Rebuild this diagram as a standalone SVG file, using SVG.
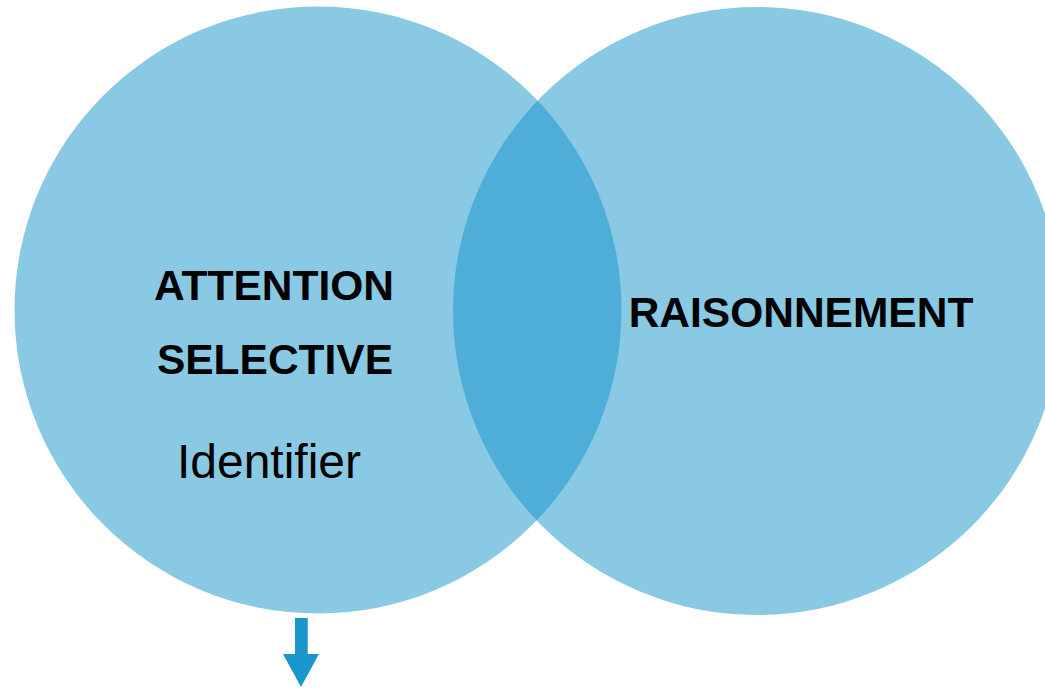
<svg xmlns="http://www.w3.org/2000/svg" width="1045" height="688" viewBox="0 0 1045 688">
<style>
.c{fill:#89C9E3}
.lens{fill:#4EAED8}
.b{font-family:"Liberation Sans",Arial,sans-serif;font-weight:bold;font-size:42.5px;fill:#000;text-anchor:middle}
.r{font-family:"Liberation Sans",Arial,sans-serif;font-size:48px;fill:#000;text-anchor:middle}
</style>
<defs>
<clipPath id="clipL"><circle cx="318" cy="310" r="303.5"/></clipPath>
</defs>
<rect width="1045" height="688" fill="#fff"/>
<g id="left-circle">
<circle class="c" cx="318" cy="310" r="303.5"/>
</g>
<g id="right-circle">
<circle class="c" cx="757" cy="311" r="304"/>
</g>
<g id="intersection">
<circle class="lens" cx="757" cy="311" r="304" clip-path="url(#clipL)"/>
</g>
<g id="attention">
<text class="b" x="274" y="300">ATTENTION</text>
<text class="b" x="275" y="374">SELECTIVE</text>
<text class="r" x="269" y="478">Identifier</text>
</g>
<g id="raisonnement">
<text class="b" x="801" y="327">RAISONNEMENT</text>
</g>
<g id="connectors">
<path d="M295,618 H307.7 V654 H319 L301,687 L283,654 H295 Z" fill="#1A96CC"/>
</g>
</svg>
